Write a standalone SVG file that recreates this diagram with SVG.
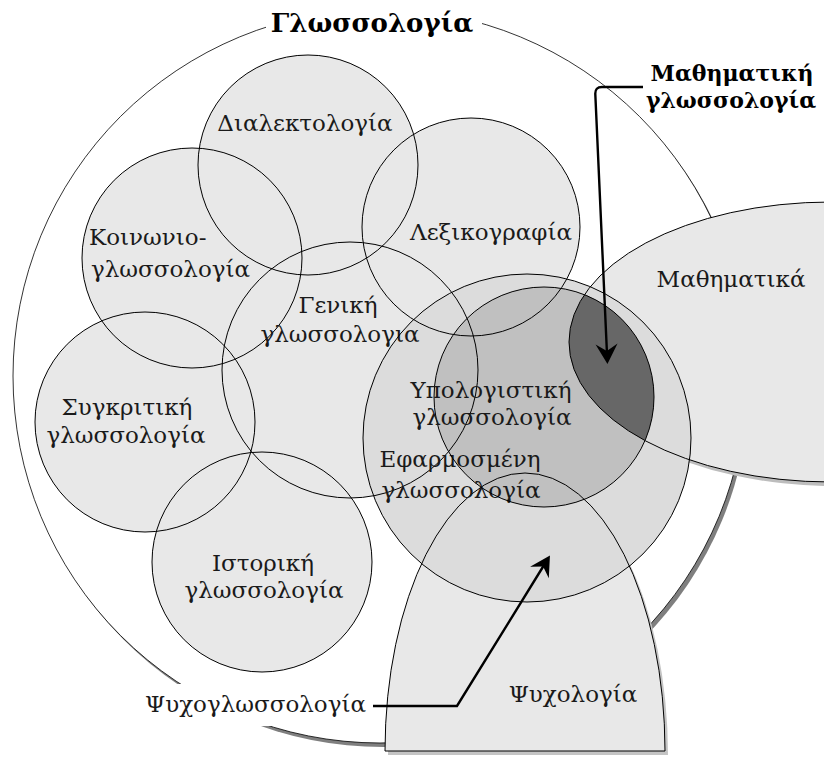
<svg xmlns="http://www.w3.org/2000/svg" xmlns:xlink="http://www.w3.org/1999/xlink" width="824" height="758" viewBox="0 0 824 758">
<defs>
<style>
.t{font-family:"DejaVu Serif","Liberation Serif",serif;font-size:23px;fill:#1a1a1a;text-anchor:middle}
.s{text-anchor:start}
.e{text-anchor:end}
.b{font-weight:bold;fill:#000}
.ol{fill:none;stroke:#000;stroke-width:1}
.arr{fill:none;stroke:#000;stroke-width:2.4}
</style>
<circle id="g-outer" cx="380" cy="376" r="367"/>
<circle id="g-dial" cx="308" cy="165" r="110"/>
<circle id="g-lex" cx="471" cy="227" r="109"/>
<circle id="g-koin" cx="192" cy="258" r="110"/>
<circle id="g-gen" cx="350" cy="370" r="128"/>
<circle id="g-syg" cx="145" cy="422" r="110"/>
<circle id="g-ist" cx="262" cy="562" r="110"/>
<ellipse id="g-math" cx="831" cy="342" rx="262" ry="140"/>
<path id="g-psy" d="M385 751 A140 278 0 0 1 665 751 Z"/>
<circle id="g-efa" cx="527" cy="438" r="164"/>
<circle id="g-ypo" cx="544" cy="397" r="110"/>
<clipPath id="mathClip"><ellipse cx="831" cy="342" rx="262" ry="140"/></clipPath>
<marker id="ah" markerUnits="userSpaceOnUse" markerWidth="30" markerHeight="30" viewBox="-15 -15 30 30" refX="0" refY="0" orient="auto">
<path d="M10,0 L-10,-11 L-3,0 L-10,11 Z" fill="#000"/>
</marker>
</defs>

<g id="linguistics">
<use xlink:href="#g-outer" transform="translate(3,4)" fill="#7f7f7f"/>
<use xlink:href="#g-outer" fill="#fff" stroke="#000" stroke-width="0.8"/>
<rect x="266" y="0" width="216" height="46" fill="#fff"/>
<text class="t b" x="372" y="32" style="font-size:26px">Γλωσσολογία</text>
</g>

<g id="area-fills">
<use xlink:href="#g-dial" fill="#e8e8e8"/>
<use xlink:href="#g-lex" fill="#e8e8e8"/>
<use xlink:href="#g-koin" fill="#e8e8e8"/>
<use xlink:href="#g-gen" fill="#e8e8e8"/>
<use xlink:href="#g-syg" fill="#e8e8e8"/>
<use xlink:href="#g-ist" fill="#e8e8e8"/>
<use xlink:href="#g-math" transform="translate(3,4)" fill="#bdbdbd"/>
<use xlink:href="#g-math" fill="#e8e8e8"/>
<use xlink:href="#g-psy" transform="translate(3,4)" fill="#c4c4c4"/>
<use xlink:href="#g-psy" fill="#e8e8e8"/>
<use xlink:href="#g-efa" fill="#dcdcdc"/>
<use xlink:href="#g-ypo" fill="#c0c0c0"/>
<use xlink:href="#g-ypo" fill="#676767" clip-path="url(#mathClip)"/>
</g>

<g id="dialectology">
<use xlink:href="#g-dial" class="ol"/>
<text class="t" x="305" y="131">Διαλεκτολογία</text>
</g>
<g id="lexicography">
<use xlink:href="#g-lex" class="ol"/>
<text class="t" x="491" y="240">Λεξικογραφία</text>
</g>
<g id="sociolinguistics">
<use xlink:href="#g-koin" class="ol"/>
<text class="t s" x="89" y="245">Κοινωνιο-</text>
<text class="t s" x="91" y="277">γλωσσολογία</text>
</g>
<g id="general-linguistics">
<use xlink:href="#g-gen" class="ol"/>
<text class="t" x="338" y="313">Γενική</text>
<text class="t" x="340" y="342">γλωσσολογια</text>
</g>
<g id="comparative-linguistics">
<use xlink:href="#g-syg" class="ol"/>
<text class="t" x="127" y="415">Συγκριτική</text>
<text class="t" x="126" y="443">γλωσσολογία</text>
</g>
<g id="historical-linguistics">
<use xlink:href="#g-ist" class="ol"/>
<text class="t" x="263" y="571">Ιστορική</text>
<text class="t" x="264" y="598">γλωσσολογία</text>
</g>
<g id="mathematics">
<use xlink:href="#g-math" class="ol"/>
<text class="t" x="731" y="287">Μαθηματικά</text>
</g>
<g id="psychology">
<use xlink:href="#g-psy" class="ol"/>
<text class="t" x="573" y="702">Ψυχολογία</text>
</g>
<g id="applied-linguistics">
<use xlink:href="#g-efa" class="ol"/>
<text class="t" x="460" y="467">Εφαρμοσμένη</text>
<text class="t" x="461" y="498">γλωσσολογία</text>
</g>
<g id="computational-linguistics">
<use xlink:href="#g-ypo" class="ol"/>
<text class="t" x="491" y="398">Υπολογιστική</text>
<text class="t" x="492" y="425">γλωσσολογία</text>
</g>
<g id="mathematical-linguistics">
<text class="t b" x="732" y="81" style="font-size:22px">Μαθηματική</text>
<text class="t b" x="731" y="108" style="font-size:22px">γλωσσολογία</text>
</g>
<g id="psycholinguistics">
<rect x="132" y="684" width="238" height="42" fill="#fff"/>
<text class="t e" x="366" y="712">Ψυχογλωσσολογία</text>
</g>

<g id="connectors">
<path class="arr" d="M643 87 H602 Q595 87 595.3 94 L607 354" marker-end="url(#ah)"/>
<path class="arr" d="M373 706 H457 L544.7 564" marker-end="url(#ah)"/>
</g>
</svg>
